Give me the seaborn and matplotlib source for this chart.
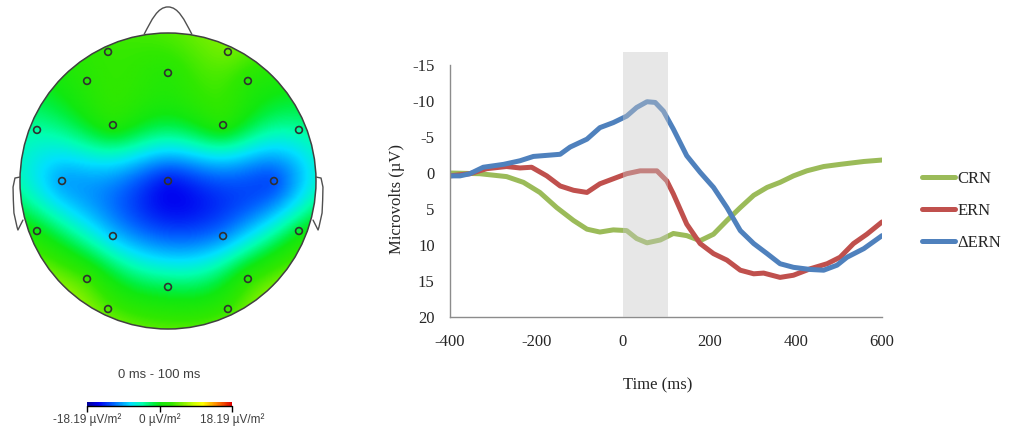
import numpy as np
import pandas as pd
import seaborn as sns
import matplotlib.pyplot as plt
from matplotlib.colors import LinearSegmentedColormap
from matplotlib.patches import Circle
from matplotlib.path import Path
import matplotlib.patches as mpatches

sns.set_style('white')
plt.rcParams['font.family'] = ['Liberation Serif', 'DejaVu Serif']
plt.rcParams['axes.unicode_minus'] = False

# === 파형 데이터 (ms, µV) ===
crn_t = [-400, -331, -269, -230, -192, -153, -114, -83, -53, -22, 9, 32, 56, 87, 117, 148, 179,
         210, 241, 272, 303, 334, 364, 395, 426, 465, 503, 558, 600]
crn_v = [0.0, 0.1, 0.5, 1.3, 2.7, 4.8, 6.6, 7.8, 8.2, 7.9, 8.0, 9.1, 9.7, 9.3, 8.4, 8.7, 9.4,
         8.5, 6.6, 4.8, 3.1, 2.0, 1.3, 0.4, -0.3, -0.9, -1.2, -1.6, -1.8]

ern_t = [-400, -354, -315, -269, -238, -211, -176, -145, -114, -83, -53, -22, 9, 40, 79, 102,
         117, 148, 179, 210, 241, 272, 303, 326, 364, 395, 434, 473, 503, 534, 565, 600]
ern_v = [0.4, 0.1, -0.6, -0.9, -0.7, -0.8, 0.4, 1.8, 2.4, 2.7, 1.5, 0.8, 0.1, -0.3, -0.3, 1.1,
         2.9, 7.1, 9.8, 11.2, 12.1, 13.5, 14.0, 13.9, 14.5, 14.2, 13.3, 12.6, 11.7, 9.8, 8.5, 6.8]

dern_t = [-400, -377, -354, -323, -276, -238, -207, -145, -122, -83, -53, -22, 9, 32, 56, 75,
          94, 117, 148, 179, 210, 241, 272, 303, 334, 364, 395, 434, 465, 496, 519, 558, 600]
dern_v = [0.4, 0.4, 0.1, -0.8, -1.2, -1.7, -2.3, -2.6, -3.6, -4.7, -6.3, -7.0, -7.9, -9.1, -9.9, -9.8,
          -8.6, -6.1, -2.4, -0.1, 2.0, 4.8, 8.0, 9.8, 11.2, 12.6, 13.1, 13.4, 13.5, 12.8, 11.7, 10.5, 8.7]

series_names = ['CRN', 'ERN', 'ΔERN']
series_colors = ['#9BBB59', '#C0504D', '#4F81BD']
window_ms = [0, 105]

# === 전극 위치 (머리 반지름=1) 와 0-100 ms 평균 값 (µV/m²) ===
el_x = [-0.405, 0.405, 0.0, -0.547, 0.54, -0.372, 0.372, -0.885, 0.885, -0.716, 0.0, 0.716,
        -0.885, 0.885, -0.372, 0.372, -0.547, 0.54, 0.0, -0.405, 0.405]
el_y = [0.872, 0.872, 0.73, 0.676, 0.676, 0.378, 0.378, 0.345, 0.345, 0.0, 0.0, 0.0,
        -0.338, -0.338, -0.372, -0.372, -0.662, -0.662, -0.716, -0.865, -0.865]
el_v = [3, 5, 2, 2, 2, 1, 1, -4, -4, -9, -14, -12, 0, -1, -8, -10, 3, 2, -2, 4, 3]
cb_lim = 18.19

df = pd.concat([
    pd.DataFrame({'Time': crn_t, 'uV': crn_v, 'cond': 'CRN'}),
    pd.DataFrame({'Time': ern_t, 'uV': ern_v, 'cond': 'ERN'}),
    pd.DataFrame({'Time': dern_t, 'uV': dern_v, 'cond': 'ΔERN'}),
])

fig = plt.figure(figsize=(10.14, 4.32), dpi=100)

# ---------------- 오른쪽: ERP 파형 ----------------
ax = fig.add_axes([450 / 1014, 1 - 317 / 432, 432 / 1014, 252 / 432])
sns.lineplot(data=df, x='Time', y='uV', hue='cond', hue_order=series_names,
             palette=series_colors, linewidth=3.6, sort=True, estimator=None, ax=ax)
ax.axvspan(window_ms[0], window_ms[1], ymin=0, ymax=1.052, color='#C8C8C8', alpha=0.42,
           lw=0, zorder=5, clip_on=False)
ax.set_xlim(-400, 600)
ax.set_ylim(20, -15)
ax.set_xticks(range(-400, 601, 200))
ax.set_yticks(range(-15, 21, 5))
for s in ['top', 'right']:
    ax.spines[s].set_visible(False)
for s in ['left', 'bottom']:
    ax.spines[s].set_color('#8C8C8C')
    ax.spines[s].set_linewidth(1.0)
ax.tick_params(axis='y', direction='out', length=4, width=1, color='#8C8C8C', pad=7, labelsize=12)
ax.tick_params(axis='x', direction='in', length=4, width=1, color='#8C8C8C', pad=12.5, labelsize=12)
ax.set_xlabel('Time (ms)', fontsize=12)
ax.set_ylabel('Microvolts (µV)', fontsize=12)
ax.xaxis.set_label_coords(0.48, -0.24)
ax.yaxis.set_label_coords(-0.105, 0.47)
handles, labels = ax.get_legend_handles_labels()
ax.legend(handles, labels, loc='center left', bbox_to_anchor=(922 / 1014, 1 - 211 / 432),
          bbox_transform=fig.transFigure, frameon=False, fontsize=12, handlelength=2.0,
          handletextpad=0.15, labelspacing=0.96, borderpad=0, borderaxespad=0)

# ---------------- 왼쪽: 머리 지형도 ----------------
axh = fig.add_axes([0, 0, 340 / 1014, 1])
axh.set_xlim((0 - 168) / 148, (340 - 168) / 148)
axh.set_ylim((181 - 432) / 148, 181 / 148)
axh.axis('off')

# thin plate spline 보간
px = np.array(el_x)
py = np.array(el_y)
pv = np.array(el_v, dtype=float)
n = len(px)
d = np.hypot(px[:, None] - px[None, :], py[:, None] - py[None, :])
with np.errstate(divide='ignore', invalid='ignore'):
    K = np.where(d > 0, d ** 2 * np.log(d), 0.0)
P = np.c_[np.ones(n), px, py]
A = np.zeros((n + 3, n + 3))
A[:n, :n] = K
A[:n, n:] = P
A[n:, :n] = P.T
coef = np.linalg.solve(A, np.r_[pv, np.zeros(3)])
g = np.linspace(-1, 1, 321)
GX, GY = np.meshgrid(g, g)
dg = np.hypot(GX[..., None] - px, GY[..., None] - py)
with np.errstate(divide='ignore', invalid='ignore'):
    Kg = np.where(dg > 0, dg ** 2 * np.log(dg), 0.0)
Z = Kg @ coef[:n] + coef[n] + coef[n + 1] * GX + coef[n + 2] * GY

topo_cmap = LinearSegmentedColormap.from_list('topo', [
    (0.0, '#00009A'), (0.08, '#0000F0'), (0.18, '#0060FF'), (0.3, '#00E0FF'),
    (0.38, '#00FFB0'), (0.46, '#00F040'), (0.5, '#10E810'), (0.58, '#30E800'),
    (0.66, '#80F000'), (0.74, '#D0FF00'), (0.8, '#FFFF00'), (0.9, '#FF8000'),
    (1.0, '#E00000')])

head = Circle((0, 0), 1.0, transform=axh.transData)
im = axh.imshow(Z, extent=(-1, 1, -1, 1), origin='lower', cmap=topo_cmap,
                vmin=-cb_lim, vmax=cb_lim, interpolation='bilinear')
im.set_clip_path(head)
axh.add_patch(Circle((0, 0), 1.0, fill=False, ec='#404040', lw=1.1))

nose = Path([(-0.162, 0.99), (-0.11, 1.09), (-0.07, 1.176), (0, 1.176),
             (0.07, 1.176), (0.11, 1.09), (0.162, 0.99)],
            [Path.MOVETO, Path.CURVE4, Path.CURVE4, Path.CURVE4, Path.CURVE4, Path.CURVE4, Path.CURVE4])
axh.add_patch(mpatches.PathPatch(nose, fill=False, ec='#505050', lw=1.0))
ear_x = [-0.999, -1.034, -1.047, -1.045, -1.041, -1.020, -1.014, -0.98]
ear_y = [0.027, 0.020, -0.041, -0.13, -0.216, -0.311, -0.331, -0.264]
axh.plot(ear_x, ear_y, color='#505050', lw=1.0)
axh.plot([-v for v in ear_x], ear_y, color='#505050', lw=1.0)

axh.scatter(el_x, el_y, s=24, facecolors='none', edgecolors='#303030', linewidths=1.2, zorder=4)

fig.text(159 / 1014, 1 - 375 / 432, '0 ms - 100 ms', ha='center', va='center',
         fontsize=9.4, color='#404040', family=['Liberation Sans', 'DejaVu Sans'])

cax = fig.add_axes([87 / 1014, 1 - 406 / 432, 145 / 1014, 4.5 / 432])
cb = fig.colorbar(im, cax=cax, orientation='horizontal')
cb.outline.set_visible(False)
cax.plot([0, 1], [0, 0], transform=cax.transAxes, color='black', lw=1, clip_on=False)
cb.set_ticks([-cb_lim, 0, cb_lim])
cb.set_ticklabels(['-18.19 µV/m²', '0 µV/m²', '18.19 µV/m²'])
cax.tick_params(length=4, width=1, color='black', pad=1.5, labelsize=8.5, labelcolor='#404040')
for t in cax.get_xticklabels():
    t.set_family(['Liberation Sans', 'DejaVu Sans'])

fig.savefig('out.png', dpi=100)
